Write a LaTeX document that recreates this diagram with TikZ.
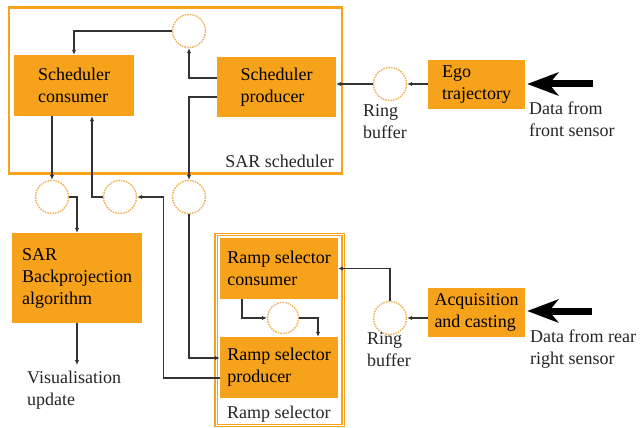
\documentclass[tikz,border=0pt]{standalone}
\usepackage{fontspec}
\setmainfont{Liberation Serif}
\usetikzlibrary{arrows.meta,calc}
\definecolor{boxor}{HTML}{F7A21B}
\definecolor{ringor}{HTML}{EDB35A}
\definecolor{linec}{HTML}{333333}
\begin{document}
\begin{tikzpicture}[x=1pt,y=-1pt,
  every node/.style={font=\fontsize{18}{22}\selectfont},
  procbox/.style={fill=boxor,draw=none,inner sep=0pt,align=left},
  ringbuf/.style={circle,draw=ringor,dash pattern=on 1.6pt off 1pt,line width=1.4pt,fill=white,minimum size=33pt,inner sep=0pt},
  frameA/.style={draw=boxor,line width=2.4pt,inner sep=0pt},
  frameB/.style={draw=boxor,line width=1.3pt,double=white,double distance=1pt,inner sep=0pt},
  arr/.style={draw=linec,line width=1.2pt,-{Latex[length=5pt,width=4.5pt]}},
  bigarr/.style={draw=black,line width=7pt,-{Stealth[length=31pt,width=23pt,inset=9pt]}},
  lbl/.style={inner sep=0pt,align=left,text=black!85}]
\fill[white] (0,0) rectangle (640,428);
\useasboundingbox (0,0) rectangle (640,428);
% frames
\node[frameA,minimum width=333pt,minimum height=166pt] (schedframe) at (175.5,90.5) {};
\node[frameB,minimum width=127pt,minimum height=191pt] (rampframe) at (279.5,330) {};
\node[lbl,anchor=base east] (schedlbl) at (334,167) {SAR scheduler};
\node[lbl,anchor=base west] (ramplbl) at (227,418) {Ramp selector};
% boxes
\node[procbox,minimum width=120pt,minimum height=61pt] (schedcons) at (74,85.5) {Scheduler\\consumer};
\node[procbox,minimum width=119pt,minimum height=60pt] (schedprod) at (276.5,87) {Scheduler\\producer};
\node[procbox,minimum width=97pt,minimum height=49pt] (ego) at (476.5,84.5) {Ego\\trajectory};
\node[procbox,minimum width=97pt,minimum height=49pt] (acq) at (476.5,312.5) {Acquisition\\and casting};
\node[procbox,minimum width=130pt,minimum height=90pt] (sarbp) at (77,278) {SAR\\Backprojection\\algorithm};
\node[procbox,minimum width=118pt,minimum height=61pt] (rcons) at (279,268.5) {Ramp selector\\consumer};
\node[procbox,minimum width=118pt,minimum height=61pt] (rprod) at (279,367.5) {Ramp selector\\producer};
% ring buffers
\node[ringbuf] (ctop) at (189,31) {};
\node[ringbuf] (cring1) at (390,84) {};
\node[ringbuf] (c1) at (52,197) {};
\node[ringbuf] (c2) at (120,197) {};
\node[ringbuf] (c3) at (189,197) {};
\node[ringbuf,minimum size=31pt] (cramp) at (283,318) {};
\node[ringbuf] (cring2) at (390,318) {};
% labels
\node[lbl,anchor=north west] (rb1) at (363,104.5) {Ring\\buffer};
\node[lbl,anchor=north west] (rb2) at (367,332.5) {Ring\\buffer};
\node[lbl,anchor=north west] (front) at (529,101.5) {Data from\\front sensor};
\node[lbl,anchor=north west] (rear) at (530,329.5) {Data from rear\\right sensor};
\node[lbl,anchor=north west] (vis) at (27,370.5) {Visualisation\\update};
\coordinate (visend) at (77,365);
\coordinate (fs) at (593,84);
\coordinate (rs) at (592,311);
% connectors
\draw[arr] (ctop.west) -| (schedcons.north);
\draw[arr] ([yshift=9pt]schedprod.west) -| (ctop.south);
\draw[arr] ([yshift=-10pt]schedprod.west) -| (c3.north);
\draw[arr] (schedcons.south -| c1) -- (c1.north);
\draw[arr] (c1.east) -| (sarbp.north);
\draw[arr] (c2.west) -| ([xshift=18pt]schedcons.south);
\draw[arr] ([yshift=-10.5pt]rprod.west) -| ([xshift=26.5pt]c2.east) -- (c2.east);
\draw[arr] (c3.south) |- ([yshift=9.5pt]rprod.west);
\draw[arr] (sarbp.south) -- (visend);
\draw[arr] ([xshift=-37pt]rcons.south) |- (cramp.west);
\draw[arr] (cramp.east) -| ([xshift=39pt]rprod.north);
\draw[arr] (acq.west |- cring2.east) -- (cring2.east);
\draw[arr] (cring2.north) |- (rcons.east);
\draw[arr] (ego.west |- cring1.east) -- (cring1.east);
\draw[arr] (cring1.west) -- (cring1.west -| schedprod.east);
\draw[bigarr] (fs) -- ([xshift=2pt]fs -| ego.east);
\draw[bigarr] (rs) -- ([xshift=2pt]rs -| acq.east);
\end{tikzpicture}
\end{document}
